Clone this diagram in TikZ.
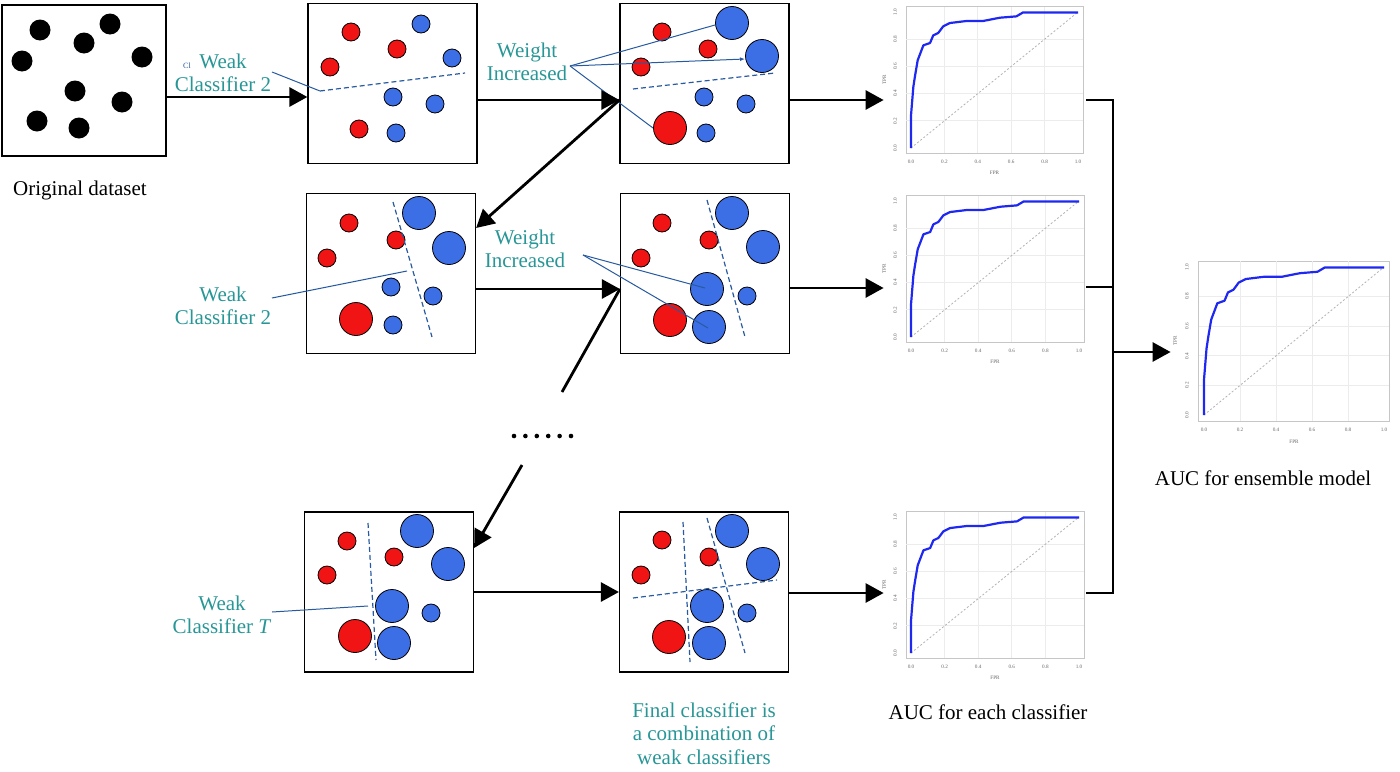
\documentclass[tikz,border=0pt]{standalone}
\usepackage{fontspec}
\setmainfont{Liberation Serif}
\usetikzlibrary{arrows.meta}
\definecolor{labelteal}{RGB}{40,150,150}
\definecolor{dotred}{RGB}{240,20,20}
\definecolor{dotblue}{RGB}{60,110,230}
\definecolor{sepblue}{RGB}{40,90,160}
\definecolor{rocblue}{RGB}{30,40,240}

\tikzset{
  rocframe/.style={draw=gray!45,line width=0.4pt},
  rocgrid/.style={draw=gray!15,line width=0.4pt},
  rocdiag/.style={draw=gray!60,line width=0.4pt,dash pattern=on 1pt off 1pt},
  roccurve/.style={draw=rocblue,line width=1.1pt,line join=round},
  roctick/.style={text=gray!80!black,font=\fontsize{2.6}{3}\selectfont,inner sep=0pt}
}

\newcommand{\rocplot}[5]{%
  \begin{scope}[shift={(#2,#3)},xscale=#4,yscale=-#5]
    \draw[rocframe] (-0.03,-0.04) rectangle (1.03,1.04);
    \foreach \tk in {0.2,0.4,0.6,0.8} {
      \draw[rocgrid] (\tk,-0.04) -- (\tk,1.04);
      \draw[rocgrid] (-0.03,\tk) -- (1.03,\tk);
    }
    \draw[rocdiag] (0,0) -- (1,1);
    \draw[roccurve] plot coordinates {(0,0) (0,0.24) (0.014,0.45) (0.024,0.53)
      (0.04,0.645) (0.074,0.755) (0.114,0.772) (0.133,0.828) (0.163,0.846)
      (0.193,0.895) (0.233,0.919) (0.333,0.934) (0.432,0.934) (0.532,0.958)
      (0.631,0.968) (0.671,0.997) (1,0.997)};
    \foreach \tk [count=\i] in {0.0,0.2,0.4,0.6,0.8,1.0} {
      \node[roctick,rotate=90] (#1ty\i) at (-0.095,\tk) {\tk};
      \node[roctick] (#1tx\i) at (\tk,-0.1) {\tk};
    }
    \node[roctick,rotate=90] (#1tpr) at (-0.16,0.5) {TPR};
    \node[roctick] (#1fpr) at (0.5,-0.18) {FPR};
  \end{scope}}

\begin{document}
\begin{tikzpicture}[x=0.5pt,y=-0.5pt,
  databox/.style={draw=black,line width=0.6pt,minimum width=84.5pt,minimum height=80pt,inner sep=0pt},
  flow/.style={line width=1.4pt,-{Triangle[length=9pt,width=9.5pt]}},
  joinline/.style={line width=1.4pt},
  reddot/.style={fill=dotred,draw=black,line width=0.4pt},
  bluedot/.style={fill=dotblue,draw=black,line width=0.4pt},
  sepline/.style={draw=sepblue,line width=0.6pt,dash pattern=on 2.5pt off 1.5pt},
  leadline/.style={draw=sepblue,line width=0.5pt},
  tealtext/.style={text=labelteal,align=center,font=\fontsize{10.5}{11.5}\selectfont,inner sep=0pt},
  plaintext/.style={font=\fontsize{10.5}{12}\selectfont,inner sep=0pt},
  rocbox/.style={minimum width=101pt,minimum height=90pt,inner sep=0pt}]
\useasboundingbox (0,0) rectangle (1400,771);

\node[databox,minimum width=82pt,minimum height=75.5pt] (b1) at (84,80.5) {};
\node[databox] (b2) at (392.5,83.5) {};
\node[databox] (b3) at (704.5,83.5) {};
\node[databox] (b4) at (391,273.5) {};
\node[databox] (b5) at (705,273.5) {};
\node[databox] (b6) at (389,592) {};
\node[databox] (b7) at (704,592) {};

\foreach \x/\y in {40/30,110/24,84/43,22/61,142/57,75/91,122/102,37/121,79/128}
  \fill (\x,\y) circle[radius=10.5];
\node[plaintext] (orig) at (80,190) {Original dataset};

\foreach \x/\y/\r in {351/32/9,397/49/9,330/67/9,359/129/9,
  662/32/9,708/49/9,641/67/9,670/128/16.5,
  349/223/9,396/240/9,327/258/9,356/319/16.5,
  662/223/9,709/240/9,641/258/9,670/320/16.5,
  347/541/9,394/557/9,327/575/9,355/636/16.5,
  662/540/9,709/557/9,641/575/9,669/637/16.5}
  \draw[reddot] (\x,\y) circle[radius=\r];
\foreach \x/\y/\r in {421/24/9,452/58/9,393/97/9,435/104/9,396/133/9,
  732/23/16.5,762/56/16.5,704/97/9,746/104/9,706/133/9,
  419/213/16.5,449/248/16.5,391/287/9,433/296/9,393/325/9,
  732/213/16.5,763/247/16.5,707/289/16.5,709/327/16.5,747/296/9,
  417/531/16.5,448/564/16.5,392/606/16.5,394/643/16.5,431/613/9,
  732/531/16.5,763/564/16.5,707/606/16.5,709/643/16.5,747/613/9}
  \draw[bluedot] (\x,\y) circle[radius=\r];

\draw[sepline] (320,91) -- (465,73);
\draw[sepline] (633,89) -- (775,73);
\draw[sepline] (393,202) -- (432,337);
\draw[sepline] (707,200) -- (745,337);
\draw[sepline] (368,523) -- (376,660);
\draw[sepline] (683,522) -- (690,662);
\draw[sepline] (707,518) -- (745,653);
\draw[sepline] (633,598) -- (777,580);

\node[tealtext] (weak1) at (223,72.5) {Weak\\Classifier 2};
\node[text=sepblue,font=\fontsize{4}{4}\selectfont,inner sep=0pt] (clmark) at (187,66) {Cl};
\node[tealtext] (wi1) at (527,62) {Weight\\Increased};
\node[tealtext] (weak2) at (223,306) {Weak\\Classifier 2};
\node[tealtext] (wi2) at (525,249) {Weight\\Increased};
\node[tealtext] (weakT) at (222,615) {Weak\\Classifier \textit{T}};
\node[tealtext,font=\fontsize{10.5}{11.75}\selectfont] (final) at (704,733.5) {Final classifier is\\a combination of\\weak classifiers};

\coordinate (lw1) at (272,72);
\coordinate (li1) at (570,66);
\coordinate (lw2) at (272,298);
\coordinate (li2) at (583,255);
\coordinate (lwT) at (272,612);
\draw[leadline] (lw1) -- (320,91);
\draw[leadline] (li1) -- (715,25);
\draw[leadline,-{Latex[length=2.5pt,width=2pt]}] (li1) -- (745,59);
\draw[leadline] (li1) -- (653,128);
\draw[leadline] (lw2) -- (407,271);
\draw[leadline] (li2) -- (705,288);
\draw[leadline] (li2) -- (708,328);
\draw[leadline] (lwT) -- (368,606);

\draw[flow] (b1.east |- 0,97) -- (b2.west |- 0,97);
\draw[flow] (b2.east |- 0,100) -- (b3.west |- 0,100);
\draw[flow] (b3.west |- 0,100) -- (b4.east |- 0,228);
\draw[flow] (b4.east |- 0,289) -- (b5.west |- 0,289);
\coordinate (dotsup) at (562,392);
\coordinate (dotsdown) at (522,465);
\draw[joinline] (dotsup) -- (b5.west |- 0,289);
\foreach \i in {0,...,5}
  \fill (514+11.4*\i,436) circle[radius=2.3];
\draw[flow] (dotsdown) -- (b6.east |- 0,548);
\draw[flow] (b6.east |- 0,592) -- (b7.west |- 0,592);

\node[rocbox] (p1) at (985,90) {};
\node[rocbox] (p2) at (985,279) {};
\node[rocbox] (p3) at (985,595) {};
\node[rocbox,minimum width=110.5pt,minimum height=100pt] (pf) at (1281.5,350) {};
\rocplot{p1}{911}{148}{167}{136}
\rocplot{p2}{911}{337}{168}{136}
\rocplot{p3}{911}{653}{168}{136}
\rocplot{pf}{1204}{415}{180}{148}

\draw[flow] (b3.east |- 0,100) -- (p1.west |- 0,100);
\draw[flow] (b5.east |- 0,288) -- (p2.west |- 0,288);
\draw[flow] (b7.east |- 0,593) -- (p3.west |- 0,593);

\coordinate (j1) at (1113,100);
\coordinate (j2) at (1113,287);
\coordinate (j3) at (1113,593);
\coordinate (jf) at (1113,352);
\draw[joinline] (p1.east |- j1) -- (j1) -- (j3) -- (p3.east |- j3);
\draw[joinline] (p2.east |- j2) -- (j2);
\draw[flow] (jf) -- (pf.west |- jf);

\node[plaintext] (auceach) at (988,712) {AUC for each classifier};
\node[plaintext] (aucens) at (1263,478) {AUC for ensemble model};
\end{tikzpicture}
\end{document}
